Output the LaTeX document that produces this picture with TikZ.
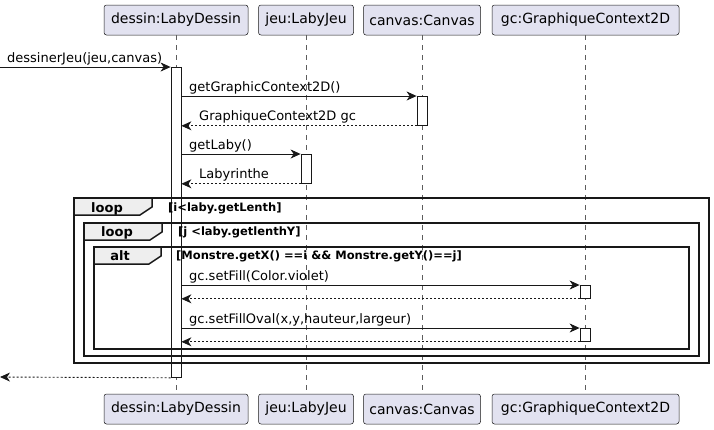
\documentclass[tikz,border=0pt]{standalone}
\usepackage{fontspec}
\setmainfont{DejaVu Sans}
\usetikzlibrary{arrows.meta}
\definecolor{pfill}{HTML}{E2E2F0}
\definecolor{ln}{HTML}{181818}
\definecolor{tabfill}{HTML}{EEEEEE}
\begin{document}
\begin{tikzpicture}[x=1pt,y=-1pt,
  part/.style={draw=ln, fill=pfill, rounded corners=2.5pt, minimum height=30pt, inner sep=0pt, line width=0.5pt, font=\fontsize{14}{16}\selectfont},
  life/.style={draw=ln!70, line width=0.5pt, dash pattern=on 5pt off 5pt},
  act/.style={draw=ln, fill=white, minimum width=10pt, inner sep=0pt, anchor=north, line width=0.8pt},
  tip/.style={-{Stealth[length=10pt,width=9pt,inset=3pt]}},
  msg/.style={draw=ln, line width=0.9pt, tip},
  ret/.style={draw=ln, line width=0.9pt, dash pattern=on 2pt off 2pt, tip},
  mlbl/.style={anchor=base west, inner sep=0pt, font=\fontsize{13}{15}\selectfont},
  frame/.style={draw=ln, line width=1.5pt},
  tabs/.style={draw=ln, fill=tabfill, line width=1.5pt},
  tablbl/.style={anchor=base, inner sep=0pt, font=\bfseries\fontsize{13}{15}\selectfont},
  cond/.style={anchor=base west, inner sep=0pt, font=\bfseries\fontsize{11.5}{13}\selectfont}
]
\useasboundingbox (0,0) rectangle (714,429);
% participants
\node[part, minimum width=144pt] (pD) at (176,20) {dessin:LabyDessin};
\node[part, minimum width=95pt] (pJ) at (306,20) {jeu:LabyJeu};
\node[part, minimum width=117pt] (pC) at (422,20) {canvas:Canvas};
\node[part, minimum width=187pt] (pG) at (585.5,20) {gc:GraphiqueContext2D};
\node[part, minimum width=144pt] (qD) at (176,409) {dessin:LabyDessin};
\node[part, minimum width=95pt] (qJ) at (306,409) {jeu:LabyJeu};
\node[part, minimum width=117pt] (qC) at (422,409) {canvas:Canvas};
\node[part, minimum width=187pt] (qG) at (585.5,409) {gc:GraphiqueContext2D};
\draw[life] (pD.south) -- (qD.north);
\draw[life] (pJ.south) -- (qJ.north);
\draw[life] (pC.south) -- (qC.north);
\draw[life] (pG.south) -- (qG.north);
% activations
\node[act, minimum height=310pt] (aD) at (176,67) {};
\node[act, minimum height=29pt] (aC) at (422,96) {};
\node[act, minimum height=29pt] (aJ) at (306,154) {};
\node[act, minimum height=13pt] (aG1) at (585,285) {};
\node[act, minimum height=13pt] (aG2) at (585,328) {};
% frames
\draw[frame] (74,198) rectangle (709,363);
\draw[tabs] (74,198) -- (152,198) -- (152,207) -- (140,215) -- (74,215) -- cycle;
\node[tablbl] (tl1) at (107,212) {loop};
\node[cond] (c1) at (168,211) {[i<laby.getLenth]};
\draw[frame] (84,223) rectangle (699,356);
\draw[tabs] (84,223) -- (162,223) -- (162,232) -- (150,240) -- (84,240) -- cycle;
\node[tablbl] (tl2) at (117,236) {loop};
\node[cond] (c2) at (178,235) {[j <laby.getlenthY]};
\draw[frame] (94,247) rectangle (689,349);
\draw[tabs] (94,247) -- (161,247) -- (161,256) -- (149,264) -- (94,264) -- cycle;
\node[tablbl] (tl3) at (120,260) {alt};
\node[cond] (c3) at (176,259) {[Monstre.getX() ==i \&\& Monstre.getY()==j]};
% messages
\coordinate (src) at (0,67);
\coordinate (snk) at (0,377);
\draw[msg] (src) -- (aD.north west);
\node[mlbl] (l1) at (7,62) {dessinerJeu(jeu,canvas)};
\draw[msg] (aD.east |- aC.north) -- (aC.north west);
\node[mlbl] (l2) at (189,91) {getGraphicContext2D()};
\draw[ret] (aC.south west) -- (aD.east |- aC.south);
\node[mlbl] (l3) at (199,120) {GraphiqueContext2D gc};
\draw[msg] (aD.east |- aJ.north) -- (aJ.north west);
\node[mlbl] (l4) at (189,149) {getLaby()};
\draw[ret] (aJ.south west) -- (aD.east |- aJ.south);
\node[mlbl] (l5) at (199,178) {Labyrinthe};
\draw[msg] (aD.east |- aG1.north) -- (aG1.north west);
\node[mlbl] (l6) at (189,280) {gc.setFill(Color.violet)};
\draw[ret] (aG1.south west) -- (aD.east |- aG1.south);
\draw[msg] (aD.east |- aG2.north) -- (aG2.north west);
\node[mlbl] (l7) at (189,323) {gc.setFillOval(x,y,hauteur,largeur)};
\draw[ret] (aG2.south west) -- (aD.east |- aG2.south);
\draw[ret] (aD.south west) -- (snk);
\end{tikzpicture}
\end{document}
